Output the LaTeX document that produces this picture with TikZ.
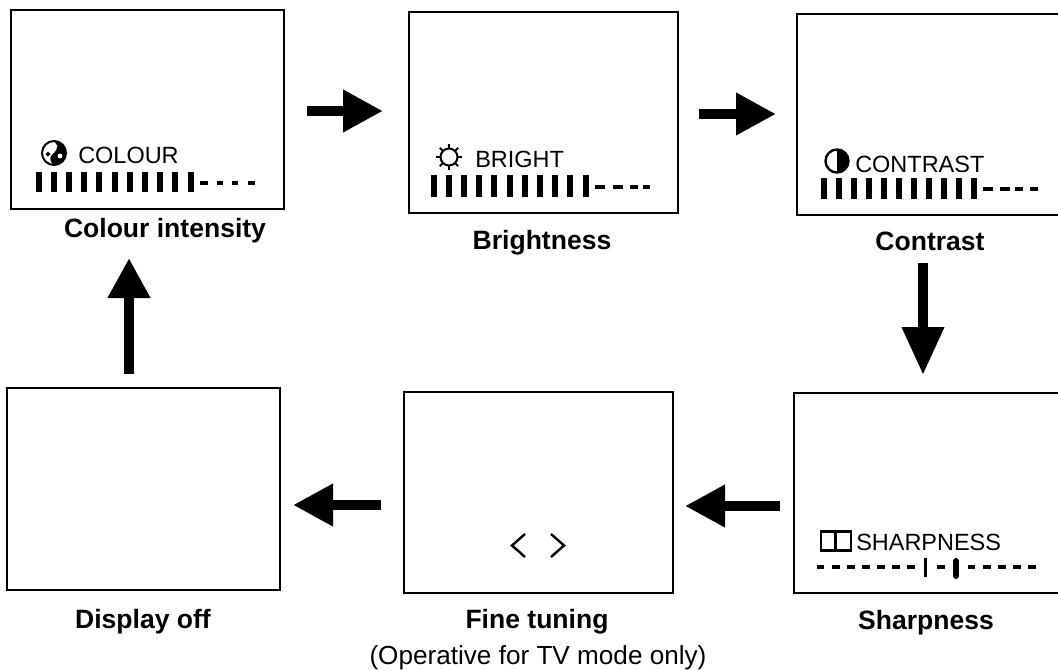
\documentclass[tikz,border=0pt]{standalone}
\usepackage{fontspec}
\setmainfont{Liberation Sans}
\usetikzlibrary{arrows.meta,calc}
\newlength\pxu
\pxu=0.75pt
\tikzset{
  screen/.style={draw=black,line width=2\pxu,fill=white,inner sep=0pt,outer sep=0pt},
  caption/.style={font=\fontsize{19.9}{22}\selectfont\bfseries,anchor=base,inner sep=0pt},
  note/.style={font=\fontsize{19.6}{22}\selectfont,anchor=base,inner sep=0pt},
  osd/.style={font=\fontsize{17.6}{20}\selectfont,anchor=base west,inner sep=0pt},
  bigarrow/.style={line width=10\pxu,-{Triangle[length=30pt,width=30pt]}},
  longarrow/.style={line width=10\pxu,-{Triangle[length=36pt,width=30pt]}},
  barmark/.style={line width=6\pxu},
  dashmark/.style={line width=4\pxu},
  iconline/.style={line width=2\pxu},
}
\begin{document}
\begin{tikzpicture}[x=\pxu,y=-\pxu]
\useasboundingbox (0,0) rectangle (1058,671);
\fill[white] (0,0) rectangle (1058,671);
% screens
\node[screen,minimum width=273\pxu,minimum height=199\pxu] (colour) at (147.5,109.5) {};
\node[screen,minimum width=269\pxu,minimum height=201\pxu] (bright) at (543.5,112.5) {};
\node[screen,minimum width=265\pxu,minimum height=201\pxu] (contrast) at (929.5,114.5) {};
\node[screen,minimum width=268\pxu,minimum height=200\pxu] (sharp) at (928,493) {};
\node[screen,minimum width=269\pxu,minimum height=201\pxu] (fine) at (538.5,492.5) {};
\node[screen,minimum width=273\pxu,minimum height=202\pxu] (off) at (143.5,489) {};
% connectors
\draw[bigarrow,shorten <=23\pxu,shorten >=26\pxu] ([yshift=-1.5\pxu]colour.east) -- ([yshift=1.5\pxu]bright.west);
\draw[bigarrow,shorten <=21\pxu,shorten >=21\pxu] ([yshift=-1.5\pxu]bright.east) -- ([yshift=0.5\pxu]contrast.west);
\draw[longarrow,shorten <=48\pxu,shorten >=18\pxu] ([xshift=-6.5\pxu]contrast.south) -- ([xshift=-5\pxu]sharp.north);
\draw[bigarrow,shorten <=14\pxu,shorten >=12\pxu] ([yshift=-13\pxu]sharp.west) -- ([yshift=-13.5\pxu]fine.east);
\draw[bigarrow,shorten <=23\pxu,shorten >=13\pxu] ([yshift=-12.5\pxu]fine.west) -- ([yshift=-16\pxu]off.east);
\draw[bigarrow,shorten <=14\pxu,shorten >=49\pxu] ([xshift=-14.5\pxu]off.north) -- ([xshift=-18.5\pxu]colour.south);
% captions
\node[caption] (capcolour) at (165,237) {Colour intensity};
\node[caption] (capbright) at (542,249) {Brightness};
\node[caption] (capcontrast) at (930,250) {Contrast};
\node[caption] (capsharp) at (926,629) {Sharpness};
\node[caption] (capfine) at (537,628) {Fine tuning};
\node[caption] (capoff) at (143,628) {Display off};
\node[note] (capnote) at (538,664) {(Operative for TV mode only)};
% on-screen texts
\node[osd] (tcolour) at (78,163) {COLOUR};
\node[osd] (tbright) at (475,167) {BRIGHT};
\node[osd] (tcontrast) at (855,172) {CONTRAST};
\node[osd] (tsharp) at (856,550) {SHARPNESS};
% level bars: colour
\foreach \i in {0,...,10} \draw[barmark] ({38.5+15.2*\i},172) -- ({38.5+15.2*\i},192);
\foreach \a/\b in {200/208,217/223,232/238,248/255} \draw[dashmark] (\a,183) -- (\b,183);
% level bars: brightness
\foreach \i in {0,...,10} \draw[barmark] ({433.5+15.2*\i},175) -- ({433.5+15.2*\i},197);
\foreach \a/\b in {595/605,613/623,630/638,643/650} \draw[dashmark] (\a,187) -- (\b,187);
% level bars: contrast
\foreach \i in {0,...,10} \draw[barmark] ({823.5+15*\i},178) -- ({823.5+15*\i},199);
\foreach \a/\b in {983/993,1000/1010,1015/1023,1030/1038} \draw[dashmark] (\a,189) -- (\b,189);
% level bars: sharpness
\foreach \a/\b in {817/824,832/840,847/855,862/870,877/885,892/900,907/915,937/945,968/975,983/991,998/1006,1013/1021,1028/1036}
  \draw[dashmark] (\a,567) -- (\b,567);
\draw[line width=3\pxu] (925,558) -- (925,577);
\draw[line width=6\pxu,line cap=round] (956,561) -- (956,576);
% colour icon
\draw[iconline,fill=white] (54,153) circle[radius=12];
\fill (54,141) arc[start angle=-90,end angle=90,radius=12] .. controls (48,160) and (50,156) .. (54,153) .. controls (58,149) and (58,145) .. (54,141) -- cycle;
\fill[white] (56,146) circle[radius=1.6] (60,156) circle[radius=2.4];
\fill (45.5,154) -- (48,151.5) -- (50.5,154) -- (48,156.5) -- cycle;
% sun icon
\draw[iconline] (449,157) circle[radius=8.5];
\foreach \t in {0,45,...,315} \draw[iconline] ($(449,157)+(\t:8.5)$) -- ($(449,157)+(\t:13)$);
% contrast icon
\draw[line width=2.4\pxu,fill=white] (837,161) circle[radius=11.5];
\fill (837,149) arc[start angle=-90,end angle=90,radius=12] -- cycle;
% sharpness icon
\draw[line width=2.4\pxu] (821,531.5) rectangle (851,550.5) (835.5,531.5) -- (835.5,550.5);
% fine tuning chevrons
\draw[line width=2.4\pxu] (525,534) -- (512,545.5) -- (525,557);
\draw[line width=2.4\pxu] (551,534) -- (564,545.5) -- (551,557);
\end{tikzpicture}
\end{document}
